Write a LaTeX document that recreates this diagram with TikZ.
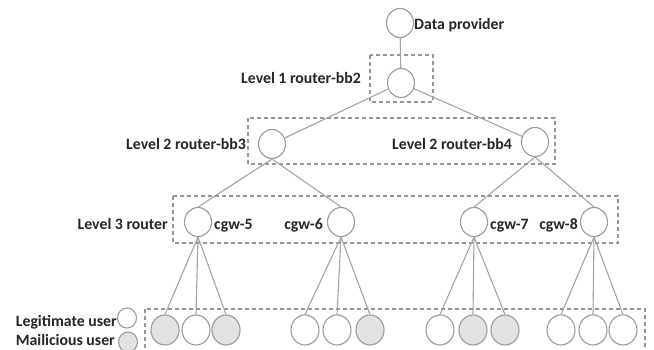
\documentclass[tikz,border=0pt]{standalone}
\usepackage{fontspec}
\setmainfont{Carlito}
\usetikzlibrary{shapes.geometric}
\definecolor{edgec}{HTML}{A4A4A4}
\definecolor{circc}{HTML}{9A9A9A}
\definecolor{boxc}{HTML}{969696}
\definecolor{grayf}{HTML}{E2E2E2}
\definecolor{txtc}{HTML}{262626}
\begin{document}
\begin{tikzpicture}[x=1pt,y=-1pt,
  nd/.style={draw=circc, line width=1.1pt, ellipse, minimum width=27pt, minimum height=29pt, inner sep=0pt, fill=white},
  usr/.style={nd, minimum width=28pt, minimum height=30pt},
  mal/.style={usr, fill=grayf},
  legn/.style={nd, minimum width=19pt, minimum height=20pt},
  lbl/.style={font=\bfseries\fontsize{15.8}{18}\selectfont, text=txtc, inner sep=0pt},
  edge/.style={draw=edgec, line width=1.1pt},
  grp/.style={draw=boxc, dash pattern=on 4pt off 3pt, line width=1.1pt}]
\path[clip] (0,0) rectangle (654,349);
\fill[white] (0,0) rectangle (654,349);
% group boxes
\draw[grp] (370,55) rectangle (433,102);
\draw[grp] (248,118) rectangle (555,164);
\draw[grp] (173,196) rectangle (618,243);
\draw[grp] (145,309) rectangle (645,372);
% nodes
\node[nd] (dp) at (400,23) {};
\node[nd] (l1) at (401,83) {};
\node[nd] (bb3) at (272,144) {};
\node[nd] (bb4) at (535,142) {};
\node[nd] (c5) at (198,222) {};
\node[nd] (c6) at (341,222) {};
\node[nd] (c7) at (474,222) {};
\node[nd] (c8) at (594,222) {};
\node[mal] (u11) at (165,330) {};
\node[usr] (u12) at (196,330) {};
\node[mal] (u13) at (226,330) {};
\node[usr] (u21) at (305,330) {};
\node[usr] (u22) at (337,330) {};
\node[mal] (u23) at (370,330) {};
\node[usr] (u31) at (440,330) {};
\node[mal] (u32) at (473,330) {};
\node[mal] (u33) at (505,330) {};
\node[usr] (u41) at (561,330) {};
\node[usr] (u42) at (593,330) {};
\node[usr] (u43) at (623,330) {};
\node[legn] (lg) at (127,318) {};
\node[legn, fill=grayf] (lm) at (128,342) {};
% edges
\draw[edge] (dp) -- (l1);
\draw[edge] (l1) -- (bb3);
\draw[edge] (l1) -- (bb4);
\draw[edge] (bb3.south) -- (c5.north);
\draw[edge] (bb3.south) -- (c6.north);
\draw[edge] (bb4.south) -- (c7.north);
\draw[edge] (bb4.south) -- (c8.north);
\foreach \r/\g in {c5/1,c6/2,c7/3,c8/4}{
  \foreach \k in {1,2,3}{
    \draw[edge] (\r.south) -- (u\g\k.north);
  }
}
% labels
\node[lbl, anchor=base west] (tdp) at (414,29) {Data provider};
\node[lbl, anchor=base east] (tl1) at (361,83) {Level 1 router-bb2};
\node[lbl, anchor=base east] (tbb3) at (246,149) {Level 2 router-bb3};
\node[lbl, anchor=base east] (tbb4) at (512,149) {Level 2 router-bb4};
\node[lbl, anchor=base east] (tl3) at (168,229) {Level 3 router};
\node[lbl, anchor=base west] (tc5) at (214,229) {cgw-5};
\node[lbl, anchor=base east] (tc6) at (323,229) {cgw-6};
\node[lbl, anchor=base west] (tc7) at (490,229) {cgw-7};
\node[lbl, anchor=base east] (tc8) at (578,229) {cgw-8};
\node[lbl, anchor=base east] (tlg) at (117,326) {Legitimate user};
\node[lbl, anchor=base east] (tlm) at (115,345) {Mailicious user};
\end{tikzpicture}
\end{document}
